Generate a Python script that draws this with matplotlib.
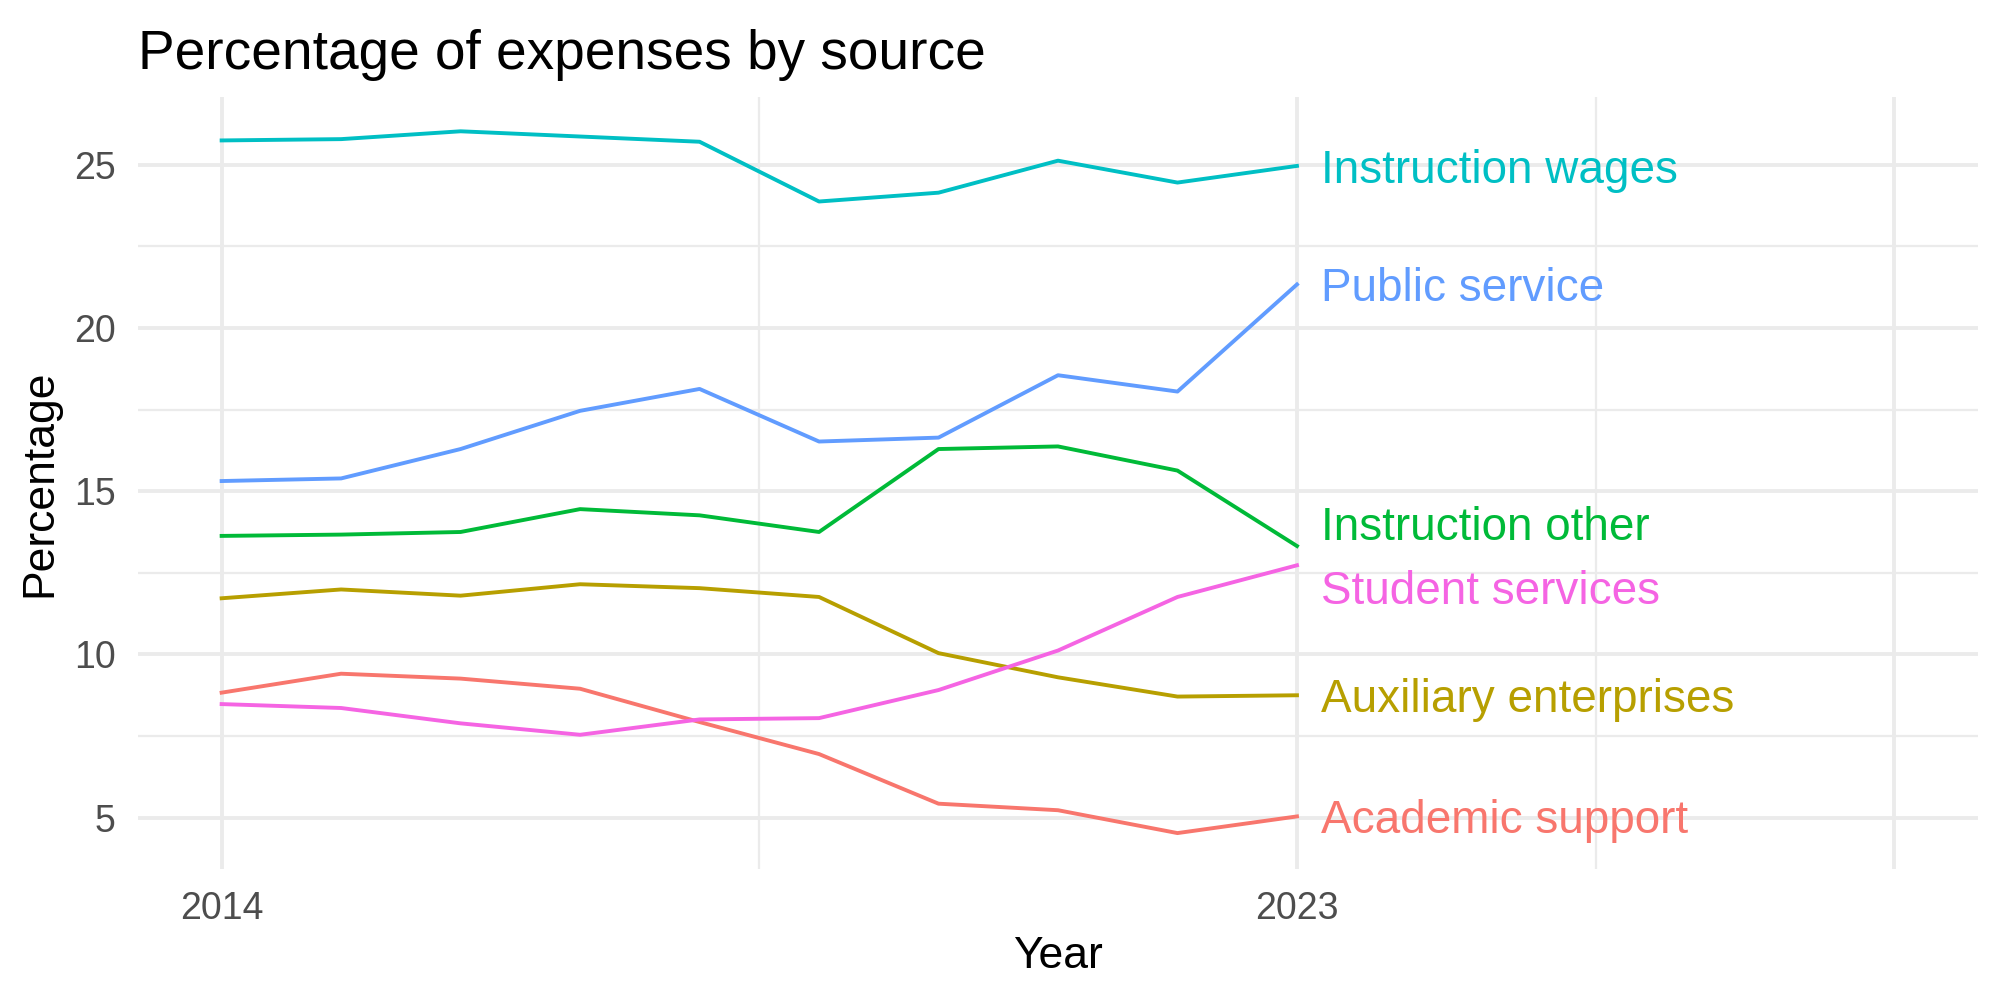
import matplotlib
matplotlib.use("Agg")
import matplotlib.pyplot as plt

plt.rcParams['font.family'] = ['Liberation Sans', 'DejaVu Sans']

# Data
years = [2014, 2015, 2016, 2017, 2018, 2019, 2020, 2021, 2022, 2023]
academic_support = [8.83, 9.41, 9.26, 8.95, 7.93, 6.95, 5.43, 5.23, 4.53, 5.04]
auxiliary_enterprises = [11.72, 11.99, 11.80, 12.15, 12.03, 11.76, 10.04, 9.30, 8.71, 8.75]
instruction_other = [13.63, 13.67, 13.75, 14.45, 14.26, 13.75, 16.29, 16.37, 15.63, 13.32]
instruction_wages = [25.74, 25.78, 26.02, 25.86, 25.70, 23.87, 24.14, 25.12, 24.45, 24.96]
public_service = [15.31, 15.39, 16.29, 17.46, 18.13, 16.52, 16.64, 18.55, 18.05, 21.33]
student_services = [8.48, 8.36, 7.89, 7.54, 8.01, 8.05, 8.91, 10.12, 11.76, 12.73]

series = [
    ("Academic support", academic_support, "#F8766D"),
    ("Auxiliary enterprises", auxiliary_enterprises, "#B79F00"),
    ("Instruction other", instruction_other, "#00BA38"),
    ("Instruction wages", instruction_wages, "#00BFC4"),
    ("Public service", public_service, "#619CFF"),
    ("Student services", student_services, "#F564E3"),
]

# labels are repelled a little where they would overlap
label_nudge = {"Instruction other": 0.7, "Student services": -0.65}

fig = plt.figure(figsize=(10, 5), dpi=200)
ax = fig.add_axes([0.069, 0.131, 0.92, 0.772])

grid_col = "#EBEBEB"
# major / minor grid like theme_minimal
for x in [2014, 2023, 2028]:
    ax.axvline(x, color=grid_col, linewidth=1.4, zorder=0)
for x in [2018.5, 2025.5]:
    ax.axvline(x, color=grid_col, linewidth=0.8, zorder=0)
for y in [5, 10, 15, 20, 25]:
    ax.axhline(y, color=grid_col, linewidth=1.4, zorder=0)
for y in [7.5, 12.5, 17.5, 22.5]:
    ax.axhline(y, color=grid_col, linewidth=0.8, zorder=0)

for name, vals, col in series:
    ax.plot(years, vals, color=col, linewidth=1.4, zorder=2)
    ax.text(years[-1] + 0.2, vals[-1] + label_nudge.get(name, 0), name,
            color=col, fontsize=16.5, ha='left', va='center_baseline')

ax.set_xlim(2013.3, 2028.7)
ax.set_ylim(3.43, 27.07)
ax.set_xticks([2014, 2023])
ax.set_yticks([5, 10, 15, 20, 25])
ax.tick_params(length=0, labelsize=13.5, colors="#4D4D4D", pad=8)
for s in ax.spines.values():
    s.set_visible(False)

ax.set_xlabel("Year", fontsize=16, labelpad=3)
ax.set_ylabel("Percentage", fontsize=16, labelpad=5)
ax.set_title("Percentage of expenses by source", fontsize=19.8, loc='left', pad=10)

fig.savefig("out.png", dpi=200)
